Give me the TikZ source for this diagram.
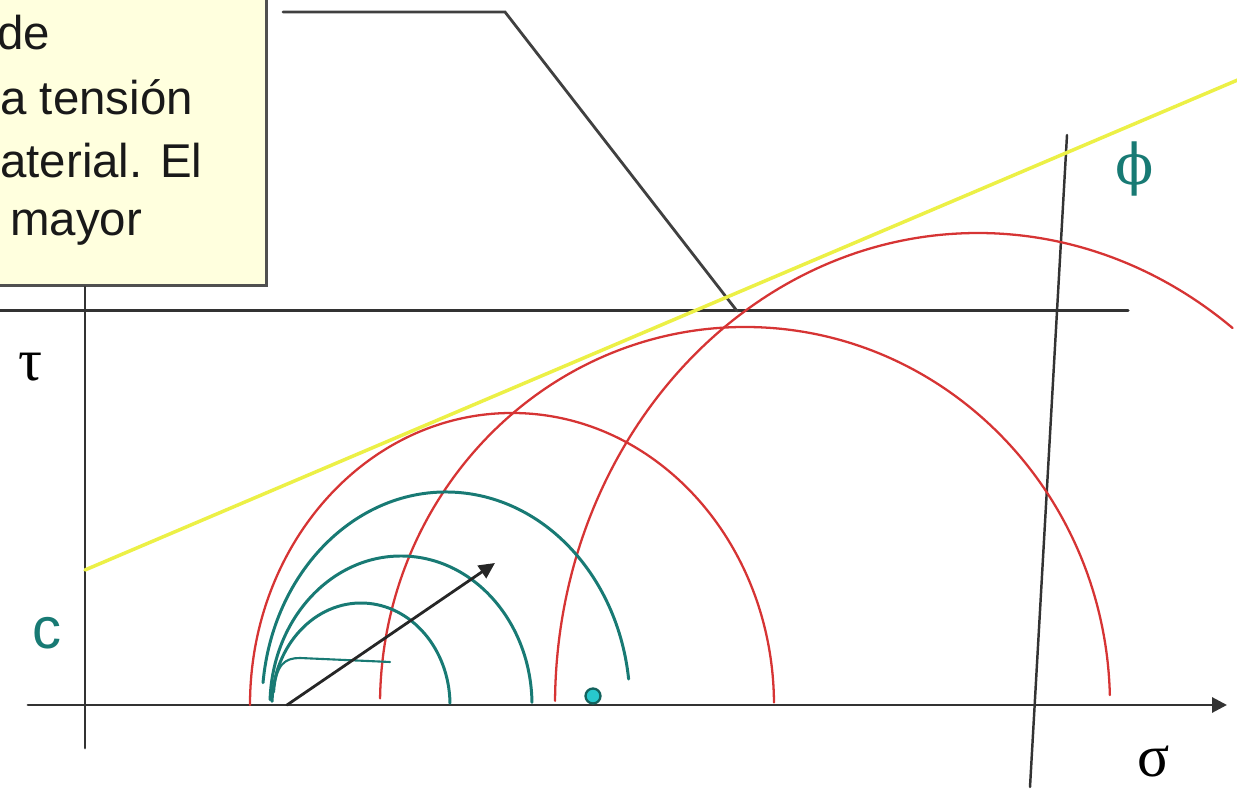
\documentclass[tikz,border=0pt]{standalone}
\usepackage{fontspec}
\setmainfont{Liberation Sans}
\newfontfamily\greekfont{Liberation Serif}
\newfontfamily\phifont{DejaVu Serif}
\usetikzlibrary{arrows.meta}

\definecolor{notefill}{RGB}{255,255,222}
\definecolor{noteedge}{RGB}{80,80,80}
\definecolor{mohrred}{RGB}{214,52,52}
\definecolor{trialteal}{RGB}{24,122,116}
\definecolor{envyellow}{RGB}{236,240,70}
\definecolor{dotcyan}{RGB}{40,200,205}

\begin{document}
\begin{tikzpicture}[x=0.02cm, y=0.02cm, line cap=round,
  axis/.style={draw=black!80, line width=1.7pt},
  mohr/.style={draw=mohrred, line width=1.3pt},
  trial/.style={draw=trialteal, line width=1.7pt},
  envelope/.style={draw=envyellow, line width=2pt},
  callout/.style={rectangle, draw=noteedge, fill=notefill, line width=1.5pt,
                  minimum width=5.9cm, minimum height=6.3cm, inner sep=0pt},
  notetxt/.style={anchor=base west, inner sep=0pt, text=black!90,
                  font=\fontsize{27}{35}\selectfont},
  sym/.style={inner sep=0pt, font=\greekfont\fontsize{34}{40}\selectfont},
]
  \useasboundingbox (0,0) rectangle (1237,790);
  \clip (0,0) rectangle (1237,790);

  % note box, cut by the frame at top and left
  \node[callout, anchor=south east] (note) at (268,503) {};
  \node[notetxt] (line1) at (-3,740) {de};
  \node[notetxt] (line2) at (0,675) {a tensión};
  \node[notetxt] (line3) at (0,612) {aterial. El};
  \node[notetxt] (line4) at (10,554) {mayor};

  % axes and guide lines
  \coordinate (sigL) at (28,85);
  \coordinate (sigR) at (1227,85);
  \coordinate (tauB) at (85,42);
  \coordinate (tauT) at (85,503);
  \coordinate (capL) at (0,479);
  \coordinate (capR) at (1128,479);
  \coordinate (fixT) at (1067,655);
  \coordinate (fixB) at (1030,3);
  \draw[axis, -{Triangle[length=0.3cm, width=0.3cm]}] (sigL) -- (sigR);
  \draw[axis] (tauB) -- (tauT);
  \draw[axis] (capL) -- (capR);
  \draw[axis, line width=1.4pt] (fixT) -- (fixB);

  % leader of the note
  \coordinate (lead) at (283,778);
  \coordinate (kink) at (505,778);
  \coordinate (tip) at (737,479);
  \draw[draw=black!75, line width=1.6pt] (lead) -- (kink) -- (tip);

  % failure envelope
  \coordinate (env0) at (85,220);
  \coordinate (env1) at (1240,711);
  \draw[envelope] (env0) -- (env1);

  % Mohr circles
  \coordinate (mA) at (512,85);
  \coordinate (mB) at (745,85);
  \coordinate (mC) at (978,85);
  \draw[mohr] (mA) ++(180:262 and 292) arc[start angle=180, end angle=0.5, x radius=262, y radius=292];
  \draw[mohr] (mB) ++(179:365 and 378) arc[start angle=179, end angle=1.5, x radius=365, y radius=378];
  \draw[mohr] (mC) ++(179.5:423 and 472) arc[start angle=179.5, end angle=53, x radius=423, y radius=472];

  % stress path circles
  \coordinate (tA) at (361,85);
  \coordinate (tB) at (401,85);
  \coordinate (tC) at (446,85);
  \draw[trial] (tA) ++(178:89 and 102) arc[start angle=178, end angle=1, x radius=89, y radius=102];
  \draw[trial] (tB) ++(178:131 and 149) arc[start angle=178, end angle=1, x radius=131, y radius=149];
  \draw[trial] (tC) ++(174:184 and 213) arc[start angle=174, end angle=7, x radius=184, y radius=213];
  \coordinate (hook0) at (274,98);
  \coordinate (hook1) at (300,132);
  \coordinate (hook2) at (390,128);
  \draw[trial, line width=1.2pt] (hook0) .. controls (276,126) and (285,132) .. (hook1) -- (hook2);

  \coordinate (arrS) at (287,85);
  \coordinate (arrE) at (495,227);
  \draw[draw=black!85, line width=1.6pt, -{Triangle[length=0.32cm, width=0.3cm]}] (arrS) -- (arrE);

  \node[circle, draw=trialteal!80!black, fill=dotcyan, line width=1.3pt,
        minimum size=0.3cm, inner sep=0pt] (pt) at (593,94) {};

  % labels
  \node[sym] (tau) at (31,423) {τ};
  \node[sym] (sigma) at (1154,28) {σ};
  \node[inner sep=0pt, text=trialteal, font=\fontsize{33}{40}\selectfont] (coh) at (47,157) {c};
  \node[inner sep=0pt, text=trialteal, font=\phifont\fontsize{32}{40}\selectfont] (phi) at (1135,621) {ϕ};
\end{tikzpicture}
\end{document}
